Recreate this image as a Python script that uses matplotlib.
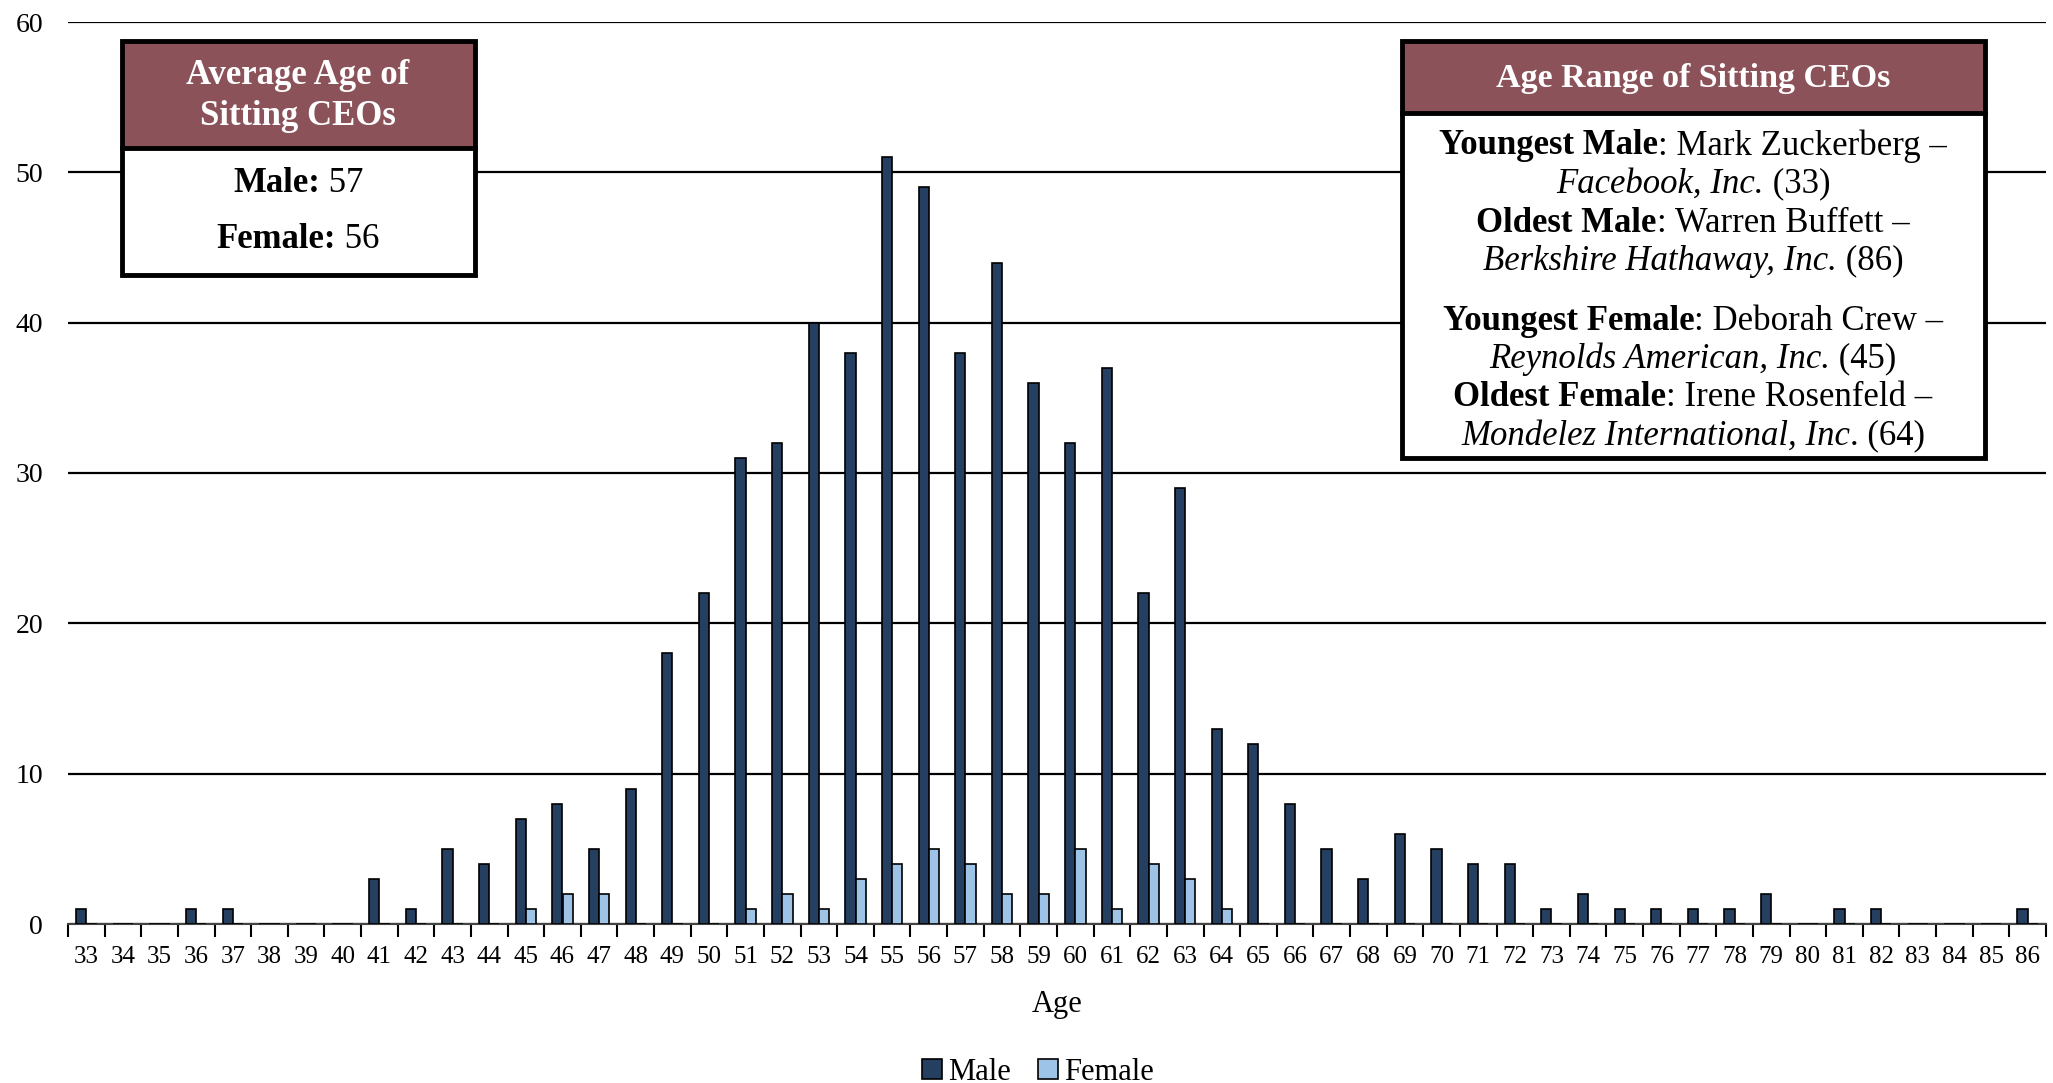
import matplotlib.pyplot as plt
import numpy as np
from matplotlib.patches import Rectangle
from matplotlib.ticker import FixedLocator

plt.rcParams['font.family'] = ['Liberation Serif', 'DejaVu Serif']

W, H = 2053, 1083

ages = list(range(33, 87))
male = [1, 0, 0, 1, 1, 0, 0, 0, 3, 1, 5, 4, 7, 8, 5, 9, 18, 22, 31, 32,
        40, 38, 51, 49, 38, 44, 36, 32, 37, 22, 29, 13, 12, 8, 5, 3, 6, 5, 4, 4,
        1, 2, 1, 1, 1, 1, 2, 0, 1, 1, 0, 0, 0, 1]
female = [0] * 12 + [1, 2, 2, 0, 0, 0, 1, 2, 1, 3, 4, 5, 4, 2, 2, 5, 1, 4, 3, 1] + [0] * 22

avg_title = "Average Age of\nSitting CEOs"
avg_lines = [[("Male:", "bold", "normal"), (" 57", "normal", "normal")],
             [("Female:", "bold", "normal"), (" 56", "normal", "normal")]]
range_title = "Age Range of Sitting CEOs"
range_lines = [
    [("Youngest Male", "bold", "normal"), (": Mark Zuckerberg \u2013", "normal", "normal")],
    [("Facebook, Inc.", "normal", "italic"), (" (33)", "normal", "normal")],
    [("Oldest Male", "bold", "normal"), (": Warren Buffett \u2013", "normal", "normal")],
    [("Berkshire Hathaway, Inc.", "normal", "italic"), (" (86)", "normal", "normal")],
    [("Youngest Female", "bold", "normal"), (": Deborah Crew \u2013", "normal", "normal")],
    [("Reynolds American, Inc.", "normal", "italic"), (" (45)", "normal", "normal")],
    [("Oldest Female", "bold", "normal"), (": Irene Rosenfeld \u2013", "normal", "normal")],
    [("Mondelez International, Inc", "normal", "italic"), (". (64)", "normal", "normal")],
]

male_color = '#243F60'
female_color = '#9DC3E6'
header_color = '#8B525A'


def fx(px):
    return px / W


def fy(py):
    return 1 - py / H


fig = plt.figure(figsize=(W / 100, H / 100), dpi=100)
ax = fig.add_axes([fx(68), fy(924), fx(2046) - fx(68), fy(22) - fy(924)])

x = np.arange(len(ages))
w = 0.28
ax.bar(x - w / 2, male, w, color=male_color, edgecolor='black', linewidth=1.2, label='Male', zorder=3)
ax.bar(x + w / 2, female, w, color=female_color, edgecolor='black', linewidth=1.2, label='Female', zorder=3)

ax.set_xlim(-0.5, len(ages) - 0.5)
ax.set_ylim(0, 60)
ax.set_yticks(range(0, 61, 10))
ax.yaxis.grid(True, color='black', linewidth=1.6, zorder=0)
ax.set_axisbelow(True)
ax.set_xticks(x)
ax.set_xticklabels([str(a) for a in ages], fontsize=18)
ax.xaxis.set_minor_locator(FixedLocator(np.arange(-0.5, len(ages), 1.0)))
ax.tick_params(axis='x', which='major', length=0, pad=16)
ax.tick_params(axis='x', which='minor', length=9, width=1.5, color='black')
ax.tick_params(axis='y', length=0, labelsize=20, pad=18)
for s in ['top', 'right', 'left']:
    ax.spines[s].set_visible(False)
ax.spines['bottom'].set_color('#444444')
ax.spines['bottom'].set_linewidth(1.5)
ax.set_xlabel('Age', fontsize=22, labelpad=16)

fig.legend(loc='center', bbox_to_anchor=(fx(1038), fy(1072)), ncol=2, frameon=False,
           fontsize=22, handlelength=0.65, handleheight=0.65, handletextpad=0.2, columnspacing=0.9)

renderer = fig.canvas.get_renderer()


def rich_line(cx, cy, parts, size):
    texts = []
    for s, weight, style in parts:
        t = fig.text(0, fy(cy), s, fontsize=size, fontweight=weight, fontstyle=style,
                     ha='left', va='center_baseline', zorder=7)
        texts.append(t)
    widths = [t.get_window_extent(renderer).width for t in texts]
    left = cx - sum(widths) / 2
    for t, wd in zip(texts, widths):
        t.set_x(fx(left))
        left += wd


def box(x0, y0, x1, y1, yh):
    fig.patches.append(Rectangle((fx(x0), fy(yh)), fx(x1) - fx(x0), fy(y0) - fy(yh),
                                 transform=fig.transFigure, facecolor=header_color,
                                 edgecolor='none', zorder=5))
    fig.patches.append(Rectangle((fx(x0), fy(y1)), fx(x1) - fx(x0), fy(yh) - fy(y1),
                                 transform=fig.transFigure, facecolor='white',
                                 edgecolor='none', zorder=5))
    fig.patches.append(Rectangle((fx(x0), fy(y1)), fx(x1) - fx(x0), fy(y0) - fy(y1),
                                 transform=fig.transFigure, facecolor='none',
                                 edgecolor='black', linewidth=3.5, zorder=6))
    fig.lines.append(plt.Line2D([fx(x0), fx(x1)], [fy(yh), fy(yh)], transform=fig.transFigure,
                                color='black', linewidth=3.5, zorder=6))


# left box
box(122, 41, 475, 275, 148)
fig.text(fx(298), fy(96), avg_title, fontsize=25, fontweight='bold', color='white',
         ha='center', va='center', linespacing=1.3, zorder=7)
rich_line(298, 180, avg_lines[0], 25)
rich_line(298, 236, avg_lines[1], 25)

# right box
box(1402, 41, 1985, 458, 113)
fig.text(fx(1693), fy(78), range_title, fontsize=24.5, fontweight='bold', color='white',
         ha='center', va='center', zorder=7)
for line, yy in zip(range_lines, [142, 180, 219, 257, 317, 355, 393, 432]):
    rich_line(1693, yy, line, 25)

fig.savefig('out.png', dpi=100)
